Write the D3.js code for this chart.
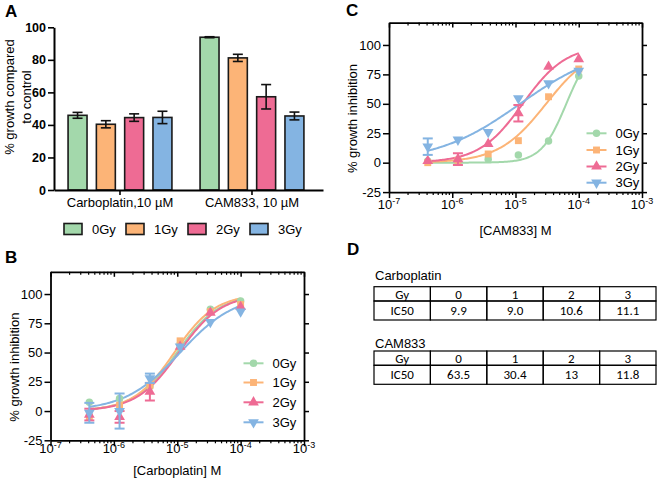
<!DOCTYPE html>
<html><head><meta charset="utf-8">
<script src="https://cdn.jsdelivr.net/npm/d3@7"></script>
<style>
html,body{margin:0;padding:0;background:#fff;}
svg{display:block;font-family:"Liberation Sans",Arial,sans-serif;}
</style></head>
<body><svg id="chart" width="658" height="479"></svg>
<script>
// ---------------- DATA ----------------
const gyLabels = ["0Gy","1Gy","2Gy","3Gy"];
const colors = ["#a3d8ab","#fcb477","#ee6b94","#84b4e2"];
// Panel A
const barGroups = ["Carboplatin,10 µM","CAM833, 10 µM"];
const barCarbo = [45.9, 40.4, 44.5, 44.6];
const barCarboErr = [1.8, 2.2, 2.3, 3.8];
const barCam = [93.9, 81.2, 57.3, 45.5];
const barCamErr = [0.3, 2.2, 7.5, 2.4];
const barTicks = [0,20,40,60,80,100];
// Panels B and C (concentration in M)
const conc = [4.1e-7, 1.23e-6, 3.7e-6, 1.11e-5, 3.33e-5, 1e-4];
const carboG0 = [7.5, 10.8, 21, 57, 87, 94];
const carboG1 = [-5, 5, 22, 60, 85, 91];
const carboG2 = [-3, -5, 16.5, 55, 84, 89];
const carboG3 = [-1.5, 0, 28, 55, 76, 85];
const carboErrG0 = [1, 2, 2, 2, 1, 1];
const carboErrG1 = [2, 2, 2, 2, 1, 2];
const carboErrG2 = [5, 5, 7.5, 2, 2, 2];
const carboErrG3 = [8.5, 15, 4, 3, 2, 2];
const camG0 = [1.5, 0.5, 3, 6.5, 18.4, 73.6];
const camG1 = [0, 2, 7.4, 18.7, 56, 79.6];
const camG2 = [1.5, 3, 16, 42, 81.6, 88];
const camG3 = [13.6, 19.5, 26, 54.7, 67.4, 78];
const camErrG0 = [1, 1, 1, 1, 1, 1];
const camErrG1 = [1, 1, 1, 1, 1, 1];
const camErrG2 = [1, 5, 1, 7, 1, 1];
const camErrG3 = [7, 1, 1, 1, 1, 1];
// 4-parameter logistic fit parameters (IC50 from table D)
const carboIC50 = [9.9e-6, 9.0e-6, 10.6e-6, 11.1e-6];
const carboHill = [1.3, 1.35, 1.3, 1.0];
const camIC50 = [63.5e-6, 30.4e-6, 13e-6, 11.8e-6];
const camHill = [2.2, 1.16, 1.27, 0.65];
const fitTop = 100, fitBottom = 0;
const doseYTicks = [-25, 0, 25, 50, 75, 100];
const decades = [1e-7, 1e-6, 1e-5, 1e-4, 1e-3];
// Panel D
const tableGy = ["0","1","2","3"];
const ic50Carbo = ["9.9","9.0","10.6","11.1"];
const ic50Cam = ["63.5","30.4","13","11.8"];

// ---------------- DRAW ----------------
const svg = d3.select("#chart");
const FONT = "\"Liberation Sans\",Arial,sans-serif";

function panelLabel(t, x, y){
  svg.append("text").attr("x",x).attr("y",y).text(t)
    .attr("font-size",17).attr("font-weight","bold").attr("fill","#000");
}

// ---- Panel A ----
panelLabel("A", 5, 17);
const yA = d3.scaleLinear().domain([0,100]).range([190,27.3]);
const xA = d3.scaleBand().domain(barGroups).range([54,323]).paddingInner(0).paddingOuter(0.019).align(0);
const xIn = d3.scaleBand().domain(gyLabels).range([9.4,122.6]).paddingInner(0.33).paddingOuter(0.165);
const gA = svg.append("g");
const barData = [];
barGroups.forEach((grp, gi) => {
  const vals = gi === 0 ? barCarbo : barCam;
  const errs = gi === 0 ? barCarboErr : barCamErr;
  gyLabels.forEach((gy, i) => barData.push({grp, gy, i, v: vals[i], e: errs[i]}));
});
gA.selectAll("rect.bar").data(barData).join("rect").attr("class","bar")
  .attr("x", d => xA(d.grp) + xIn(d.gy))
  .attr("y", d => yA(d.v))
  .attr("width", xIn.bandwidth())
  .attr("height", d => yA(0) - yA(d.v))
  .attr("fill", d => colors[d.i]).attr("stroke","#1a1a1a").attr("stroke-width",1.6);
const ebA = gA.selectAll("g.eb").data(barData).join("g").attr("class","eb")
  .attr("stroke","#111").attr("stroke-width",1.6);
ebA.append("line")
  .attr("x1", d => xA(d.grp) + xIn(d.gy) + xIn.bandwidth()/2)
  .attr("x2", d => xA(d.grp) + xIn(d.gy) + xIn.bandwidth()/2)
  .attr("y1", d => yA(d.v - d.e)).attr("y2", d => yA(d.v + d.e));
[1,-1].forEach(s => {
  ebA.append("line")
    .attr("x1", d => xA(d.grp) + xIn(d.gy) + xIn.bandwidth()/2 - 5)
    .attr("x2", d => xA(d.grp) + xIn(d.gy) + xIn.bandwidth()/2 + 5)
    .attr("y1", d => yA(d.v + s*d.e)).attr("y2", d => yA(d.v + s*d.e));
});
const axYA = svg.append("g").attr("transform","translate(54,0)")
  .call(d3.axisLeft(yA).tickValues(barTicks).tickSize(6).tickSizeOuter(0).tickPadding(2).tickFormat(String));
axYA.select(".domain").attr("stroke-width",2);
axYA.selectAll(".tick line").attr("stroke-width",1.6);
axYA.selectAll(".tick text").attr("font-size",12.5).attr("font-weight","bold").attr("font-family",FONT).attr("fill","#000");
const axXA = svg.append("g").attr("transform","translate(0,190)")
  .call(d3.axisBottom(xA).tickSize(5).tickSizeOuter(0).tickPadding(3));
axXA.select(".domain").attr("stroke-width",2);
axXA.selectAll(".tick line").attr("stroke-width",1.6);
axXA.selectAll(".tick text").attr("font-size",13).attr("font-family",FONT).attr("fill","#000");
const yTitleA = svg.append("text").attr("transform","translate(14,97) rotate(-90)")
  .attr("text-anchor","middle").attr("font-size",13).attr("fill","#000");
yTitleA.append("tspan").attr("x",0).attr("dy",0).text("% growth compared");
yTitleA.append("tspan").attr("x",0).attr("dy",17).text("to control");
// legend A
const legA = svg.append("g").selectAll("g").data(gyLabels).join("g")
  .attr("transform",(d,i)=>`translate(${64 + i*62},229)`);
legA.append("rect").attr("x",0).attr("y",-5.5).attr("width",18).attr("height",11)
  .attr("fill",(d,i)=>colors[i]).attr("stroke","#1a1a1a").attr("stroke-width",1.6);
legA.append("text").attr("x",28).attr("y",0).attr("dy","0.35em").text(d=>d)
  .attr("font-size",13).attr("fill","#000");

// ---- dose response panels ----
const symbols = [d3.symbolCircle, d3.symbolSquare, d3.symbolTriangle, d3.symbolTriangle];
const symSize = [44, 48, 50, 50];
const symRot = [0, 0, 0, 180];

function dosePanel(o){
  const x = d3.scaleLog().domain([1e-7,1e-3]).range([o.x0, o.x1]);
  const y = d3.scaleLinear().domain([-25,119]).range([o.yb, o.yt]);
  const g = svg.append("g");
  const axL = g.append("g").attr("transform",`translate(${o.x0},0)`)
    .call(d3.axisLeft(y).tickValues(doseYTicks).tickSize(6).tickSizeOuter(0).tickPadding(2).tickFormat(String));
  const axR = g.append("g").attr("transform",`translate(${o.x1},0)`)
    .call(d3.axisRight(y).tickValues(doseYTicks).tickSize(5).tickSizeOuter(0).tickFormat(""));
  const axB = g.append("g").attr("transform",`translate(0,${o.yb})`)
    .call(d3.axisBottom(x).tickValues(decades).tickSize(6).tickSizeOuter(0).tickFormat(""));
  const axT = g.append("g").attr("transform",`translate(0,${o.yt})`)
    .call(d3.axisTop(x).tickValues(decades).tickSize(-5).tickSizeOuter(0).tickFormat(""));
  [axL,axR,axB,axT].forEach(a=>{
    a.select(".domain").attr("stroke-width",1.8);
    a.selectAll(".tick line").attr("stroke-width",1.5);
  });
  axL.selectAll(".tick text").attr("font-size",13).attr("font-family",FONT).attr("fill","#000");
  const minors = [];
  decades.slice(0,-1).forEach(dv => { for(let k=2;k<=9;k++) minors.push(dv*k); });
  g.append("g").selectAll("line").data(minors).join("line")
    .attr("x1",d=>x(d)).attr("x2",d=>x(d)).attr("y1",o.yb).attr("y2",o.yb+3)
    .attr("stroke","#000").attr("stroke-width",1.2);
  g.append("g").selectAll("line").data(minors).join("line")
    .attr("x1",d=>x(d)).attr("x2",d=>x(d)).attr("y1",o.yt).attr("y2",o.yt+3)
    .attr("stroke","#000").attr("stroke-width",1.2);
  const xl = g.append("g").selectAll("text").data(decades).join("text")
    .attr("x",d=>x(d)).attr("y",o.yb + o.labOff).attr("text-anchor","middle")
    .attr("font-size",13).attr("fill","#000");
  xl.append("tspan").text("10");
  xl.append("tspan").attr("dy",-5).attr("font-size",9).text(d=>String(Math.round(Math.log10(d))));
  g.append("text").attr("x",(o.x0+o.x1)/2).attr("y",o.xTitleY).attr("text-anchor","middle")
    .attr("font-size",13).attr("fill","#000").text(o.xTitle);
  g.append("text").attr("transform",`translate(${o.yTitleX},${(y(-25)+y(100))/2}) rotate(-90)`)
    .attr("text-anchor","middle").attr("dy","0.35em").attr("font-size",13).attr("fill","#000")
    .text("% growth inhibition");
  const line = d3.line().x(d=>x(d[0])).y(d=>y(d[1]));
  const lx0 = Math.log10(conc[0]), lx1 = Math.log10(conc[conc.length-1]);
  o.series.forEach((s,i)=>{
    const pts = d3.range(0,121).map(k=>{
      const c = Math.pow(10, lx0 + (lx1-lx0)*k/120);
      return [c, fitBottom + (fitTop-fitBottom)/(1+Math.pow(o.ic50[i]/c, o.hill[i]))];
    });
    g.append("path").attr("d",line(pts)).attr("fill","none")
      .attr("stroke",colors[i]).attr("stroke-width",2);
  });
  o.series.forEach((s,i)=>{
    const data = conc.map((c,j)=>({c, v:s[j], e:o.errs[i][j]}));
    const eg = g.append("g").attr("stroke",colors[i]).attr("stroke-width",2);
    data.filter(d=>d.e>3).forEach(d=>{
      eg.append("line").attr("x1",x(d.c)).attr("x2",x(d.c)).attr("y1",y(d.v-d.e)).attr("y2",y(d.v+d.e));
      [1,-1].forEach(sg=>eg.append("line").attr("x1",x(d.c)-5).attr("x2",x(d.c)+5)
        .attr("y1",y(d.v+sg*d.e)).attr("y2",y(d.v+sg*d.e)));
    });
    g.append("g").selectAll("path").data(data).join("path")
      .attr("d", d3.symbol().type(symbols[i]).size(symSize[i]))
      .attr("transform", d=>`translate(${x(d.c)},${y(d.v)}) rotate(${symRot[i]})`)
      .attr("fill",colors[i]);
  });
  const lg = g.append("g").selectAll("g").data(gyLabels).join("g")
    .attr("transform",(d,i)=>`translate(${o.legX},${o.legY[i]})`);
  lg.append("line").attr("x1",-10).attr("x2",10).attr("stroke",(d,i)=>colors[i]).attr("stroke-width",2);
  lg.append("path").attr("d",(d,i)=>d3.symbol().type(symbols[i]).size(symSize[i])())
    .attr("transform",(d,i)=>`rotate(${symRot[i]})`).attr("fill",(d,i)=>colors[i]);
  lg.append("text").attr("x",o.legTextDx).attr("dy","0.35em").text(d=>d)
    .attr("font-size",13).attr("fill","#000");
}

panelLabel("B", 5, 263);
dosePanel({
  x0:50.5, x1:304, yb:440.3, yt:271.8, labOff:13, xTitle:"[Carboplatin] M", xTitleY:474.5, yTitleX:14,
  series:[carboG0,carboG1,carboG2,carboG3], errs:[carboErrG0,carboErrG1,carboErrG2,carboErrG3],
  ic50:carboIC50, hill:carboHill, legX:253.5, legY:[363.3,382.5,402.3,422.3], legTextDx:19
});
panelLabel("C", 346, 16);
dosePanel({
  x0:389, x1:642, yb:192.1, yt:22.6, labOff:17, xTitle:"[CAM833] M", xTitleY:234.5, yTitleX:352,
  series:[camG0,camG1,camG2,camG3], errs:[camErrG0,camErrG1,camErrG2,camErrG3],
  ic50:camIC50, hill:camHill, legX:596.5, legY:[133.3,150,166.5,182.7], legTextDx:19
});

// ---- Panel D ----
panelLabel("D", 347, 255);
const TFONT = "Carlito,Lato,\"Open Sans\",sans-serif";
const colX = d3.scaleBand().domain(["Gy"].concat(tableGy)).range([374,656]);
function ic50Table(title, titleY, top, vals){
  svg.append("text").attr("x",375).attr("y",titleY).attr("font-size",13).attr("fill","#000").text(title);
  const rows = [["Gy"].concat(tableGy), ["IC50"].concat(vals)];
  const rowTop = [top, top+14.3], rowH = [14.3, 19];
  const tg = svg.append("g");
  rows.forEach((r,ri)=>{
    r.forEach((cell,ci)=>{
      const key = colX.domain()[ci];
      tg.append("rect").attr("x",colX(key)).attr("y",rowTop[ri]).attr("width",colX.bandwidth()).attr("height",rowH[ri])
        .attr("fill","none").attr("stroke","#000").attr("stroke-width",1.2);
      tg.append("text").attr("x",colX(key)+colX.bandwidth()/2).attr("y",rowTop[ri]+rowH[ri]/2)
        .attr("dy","0.36em").attr("text-anchor","middle").attr("font-size",13)
        .attr("font-family",TFONT).attr("fill","#000").text(cell);
    });
  });
}
ic50Table("Carboplatin", 280, 286.7, ic50Carbo);
ic50Table("CAM833", 347.5, 351, ic50Cam);
</script></body></html>
